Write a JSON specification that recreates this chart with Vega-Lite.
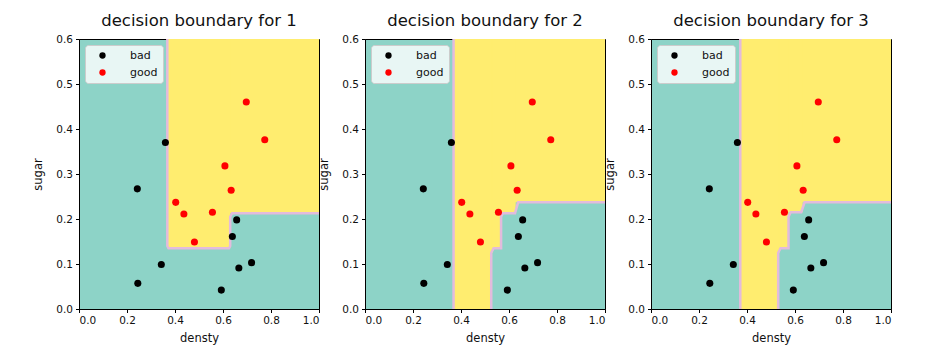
{
  "$schema": "https://vega.github.io/schema/vega-lite/v6.json",
  "background": "white",
  "padding": {"left": 32, "top": 12, "right": 5, "bottom": 5},
  "spacing": 46,
  "bounds": "flush",
  "config": {
    "font": "DejaVu Sans",
    "view": {"stroke": "black", "strokeWidth": 1, "fill": "#8dd3c7"},
    "axis": {
      "domainColor": "black", "tickColor": "black", "labelColor": "#111111", "titleColor": "#111111",
      "labelFont": "DejaVu Sans", "titleFont": "DejaVu Sans", "labelFontSize": 10.5, "titleFontSize": 11.5,
      "titleFontWeight": "normal", "tickSize": 3.5, "labelPadding": 3, "grid": false, "zindex": 2
    },
    "axisY": {"titlePadding": 12},
    "axisX": {"titlePadding": 6},
    "title": {"font": "DejaVu Sans", "fontSize": 16.5, "fontWeight": "normal", "color": "#111111", "offset": 5, "baseline": "alphabetic", "frame": "group"}
  },
  "datasets": {
    "pts": [
      {"densty": 0.697, "sugar": 0.460, "label": "good"},
      {"densty": 0.774, "sugar": 0.376, "label": "good"},
      {"densty": 0.634, "sugar": 0.264, "label": "good"},
      {"densty": 0.608, "sugar": 0.318, "label": "good"},
      {"densty": 0.556, "sugar": 0.215, "label": "good"},
      {"densty": 0.403, "sugar": 0.237, "label": "good"},
      {"densty": 0.481, "sugar": 0.149, "label": "good"},
      {"densty": 0.437, "sugar": 0.211, "label": "good"},
      {"densty": 0.666, "sugar": 0.091, "label": "bad"},
      {"densty": 0.243, "sugar": 0.267, "label": "bad"},
      {"densty": 0.245, "sugar": 0.057, "label": "bad"},
      {"densty": 0.343, "sugar": 0.099, "label": "bad"},
      {"densty": 0.639, "sugar": 0.161, "label": "bad"},
      {"densty": 0.657, "sugar": 0.198, "label": "bad"},
      {"densty": 0.360, "sugar": 0.370, "label": "bad"},
      {"densty": 0.593, "sugar": 0.042, "label": "bad"},
      {"densty": 0.719, "sugar": 0.103, "label": "bad"}
    ],
    "regions": [
      {"panel": 1, "x": 0.368, "x2": 1.0, "y": 0.213, "y2": 0.6},
      {"panel": 1, "x": 0.368, "x2": 0.63, "y": 0.135, "y2": 0.6},
      {"panel": 2, "x": 0.369, "x2": 1.0, "y": 0.237, "y2": 0.6},
      {"panel": 2, "x": 0.369, "x2": 0.628, "y": 0.213, "y2": 0.6},
      {"panel": 2, "x": 0.369, "x2": 0.567, "y": 0.135, "y2": 0.6},
      {"panel": 2, "x": 0.369, "x2": 0.532, "y": 0.125, "y2": 0.6},
      {"panel": 2, "x": 0.369, "x2": 0.526, "y": 0.0, "y2": 0.6},
      {"panel": 3, "x": 0.372, "x2": 1.0, "y": 0.237, "y2": 0.6},
      {"panel": 3, "x": 0.372, "x2": 0.632, "y": 0.215, "y2": 0.6},
      {"panel": 3, "x": 0.372, "x2": 0.573, "y": 0.135, "y2": 0.6},
      {"panel": 3, "x": 0.372, "x2": 0.536, "y": 0.125, "y2": 0.6},
      {"panel": 3, "x": 0.372, "x2": 0.530, "y": 0.0, "y2": 0.6}
    ],
    "bounds": [
      {"panel": 1, "path": "a", "i": 1, "x": 0.368, "y": 0.6},
      {"panel": 1, "path": "a", "i": 2, "x": 0.368, "y": 0.14},
      {"panel": 1, "path": "a", "i": 3, "x": 0.373, "y": 0.135},
      {"panel": 1, "path": "a", "i": 4, "x": 0.625, "y": 0.135},
      {"panel": 1, "path": "a", "i": 5, "x": 0.63, "y": 0.14},
      {"panel": 1, "path": "a", "i": 6, "x": 0.63, "y": 0.205},
      {"panel": 1, "path": "a", "i": 7, "x": 0.638, "y": 0.213},
      {"panel": 1, "path": "a", "i": 8, "x": 1.0, "y": 0.213},
      {"panel": 2, "path": "a", "i": 1, "x": 0.369, "y": 0.6},
      {"panel": 2, "path": "a", "i": 2, "x": 0.369, "y": 0.0},
      {"panel": 2, "path": "b", "i": 1, "x": 0.526, "y": 0.0},
      {"panel": 2, "path": "b", "i": 2, "x": 0.526, "y": 0.125},
      {"panel": 2, "path": "b", "i": 3, "x": 0.536, "y": 0.135},
      {"panel": 2, "path": "b", "i": 4, "x": 0.567, "y": 0.135},
      {"panel": 2, "path": "b", "i": 5, "x": 0.567, "y": 0.205},
      {"panel": 2, "path": "b", "i": 6, "x": 0.575, "y": 0.213},
      {"panel": 2, "path": "b", "i": 7, "x": 0.625, "y": 0.213},
      {"panel": 2, "path": "b", "i": 8, "x": 0.638, "y": 0.237},
      {"panel": 2, "path": "b", "i": 9, "x": 1.0, "y": 0.237},
      {"panel": 3, "path": "a", "i": 1, "x": 0.372, "y": 0.6},
      {"panel": 3, "path": "a", "i": 2, "x": 0.372, "y": 0.0},
      {"panel": 3, "path": "b", "i": 1, "x": 0.530, "y": 0.0},
      {"panel": 3, "path": "b", "i": 2, "x": 0.530, "y": 0.125},
      {"panel": 3, "path": "b", "i": 3, "x": 0.540, "y": 0.135},
      {"panel": 3, "path": "b", "i": 4, "x": 0.573, "y": 0.135},
      {"panel": 3, "path": "b", "i": 5, "x": 0.573, "y": 0.205},
      {"panel": 3, "path": "b", "i": 6, "x": 0.582, "y": 0.215},
      {"panel": 3, "path": "b", "i": 7, "x": 0.626, "y": 0.215},
      {"panel": 3, "path": "b", "i": 8, "x": 0.640, "y": 0.237},
      {"panel": 3, "path": "b", "i": 9, "x": 1.0, "y": 0.237}
    ]
  },
  "resolve": {"legend": {"color": "independent"}},
  "hconcat": [
    {
      "width": 240, "height": 270,
      "title": "decision boundary for 1",
      "layer": [
        {
          "data": {"name": "regions"},
          "transform": [{"filter": "datum.panel == 1"}],
          "mark": {"type": "rect", "color": "#ffed6f"},
          "encoding": {
            "x": {"field": "x", "type": "quantitative", "scale": {"domain": [0, 1], "nice": false}, "axis": {"values": [0, 0.2, 0.4, 0.6, 0.8, 1.0], "format": ".1f", "title": "densty"}},
            "x2": {"field": "x2"},
            "y": {"field": "y", "type": "quantitative", "scale": {"domain": [0, 0.6], "nice": false}, "axis": {"values": [0, 0.1, 0.2, 0.3, 0.4, 0.5, 0.6], "format": ".1f", "title": "sugar"}},
            "y2": {"field": "y2"}
          }
        },
        {
          "data": {"name": "bounds"},
          "transform": [{"filter": "datum.panel == 1"}],
          "mark": {"type": "line", "color": "#e3bbdc", "strokeWidth": 2.5},
          "encoding": {
            "x": {"field": "x", "type": "quantitative"},
            "y": {"field": "y", "type": "quantitative"},
            "detail": {"field": "path"},
            "order": {"field": "i"}
          }
        },
        {
          "mark": {"type": "rect", "fill": null, "stroke": "black", "strokeWidth": 1},
          "encoding": {"x": {"datum": 0}, "x2": {"datum": 1}, "y": {"datum": 0}, "y2": {"datum": 0.6}}
        },
        {
          "data": {"name": "pts"},
          "mark": {"type": "circle", "size": 50, "opacity": 1},
          "encoding": {
            "x": {"field": "densty", "type": "quantitative"},
            "y": {"field": "sugar", "type": "quantitative"},
            "color": {"field": "label", "type": "nominal", "scale": {"domain": ["bad", "good"], "range": ["black", "red"]},
              "legend": {"title": null, "orient": "top-left", "offset": 6, "fillColor": "rgba(255,255,255,0.8)", "strokeColor": "#cccccc", "cornerRadius": 3, "padding": 5, "labelFontSize": 11, "labelColor": "#111111", "symbolType": "circle", "symbolSize": 40, "symbolStrokeWidth": 0, "symbolOffset": 7, "labelOffset": 22, "rowPadding": 5}}
          }
        }
      ]
    },
    {
      "width": 240, "height": 270,
      "title": "decision boundary for 2",
      "layer": [
        {
          "data": {"name": "regions"},
          "transform": [{"filter": "datum.panel == 2"}],
          "mark": {"type": "rect", "color": "#ffed6f"},
          "encoding": {
            "x": {"field": "x", "type": "quantitative", "scale": {"domain": [0, 1], "nice": false}, "axis": {"values": [0, 0.2, 0.4, 0.6, 0.8, 1.0], "format": ".1f", "title": "densty"}},
            "x2": {"field": "x2"},
            "y": {"field": "y", "type": "quantitative", "scale": {"domain": [0, 0.6], "nice": false}, "axis": {"values": [0, 0.1, 0.2, 0.3, 0.4, 0.5, 0.6], "format": ".1f", "title": "sugar"}},
            "y2": {"field": "y2"}
          }
        },
        {
          "data": {"name": "bounds"},
          "transform": [{"filter": "datum.panel == 2"}],
          "mark": {"type": "line", "color": "#e3bbdc", "strokeWidth": 2.5},
          "encoding": {
            "x": {"field": "x", "type": "quantitative"},
            "y": {"field": "y", "type": "quantitative"},
            "detail": {"field": "path"},
            "order": {"field": "i"}
          }
        },
        {
          "mark": {"type": "rect", "fill": null, "stroke": "black", "strokeWidth": 1},
          "encoding": {"x": {"datum": 0}, "x2": {"datum": 1}, "y": {"datum": 0}, "y2": {"datum": 0.6}}
        },
        {
          "data": {"name": "pts"},
          "mark": {"type": "circle", "size": 50, "opacity": 1},
          "encoding": {
            "x": {"field": "densty", "type": "quantitative"},
            "y": {"field": "sugar", "type": "quantitative"},
            "color": {"field": "label", "type": "nominal", "scale": {"domain": ["bad", "good"], "range": ["black", "red"]},
              "legend": {"title": null, "orient": "top-left", "offset": 6, "fillColor": "rgba(255,255,255,0.8)", "strokeColor": "#cccccc", "cornerRadius": 3, "padding": 5, "labelFontSize": 11, "labelColor": "#111111", "symbolType": "circle", "symbolSize": 40, "symbolStrokeWidth": 0, "symbolOffset": 7, "labelOffset": 22, "rowPadding": 5}}
          }
        }
      ]
    },
    {
      "width": 240, "height": 270,
      "title": "decision boundary for 3",
      "layer": [
        {
          "data": {"name": "regions"},
          "transform": [{"filter": "datum.panel == 3"}],
          "mark": {"type": "rect", "color": "#ffed6f"},
          "encoding": {
            "x": {"field": "x", "type": "quantitative", "scale": {"domain": [0, 1], "nice": false}, "axis": {"values": [0, 0.2, 0.4, 0.6, 0.8, 1.0], "format": ".1f", "title": "densty"}},
            "x2": {"field": "x2"},
            "y": {"field": "y", "type": "quantitative", "scale": {"domain": [0, 0.6], "nice": false}, "axis": {"values": [0, 0.1, 0.2, 0.3, 0.4, 0.5, 0.6], "format": ".1f", "title": "sugar"}},
            "y2": {"field": "y2"}
          }
        },
        {
          "data": {"name": "bounds"},
          "transform": [{"filter": "datum.panel == 3"}],
          "mark": {"type": "line", "color": "#e3bbdc", "strokeWidth": 2.5},
          "encoding": {
            "x": {"field": "x", "type": "quantitative"},
            "y": {"field": "y", "type": "quantitative"},
            "detail": {"field": "path"},
            "order": {"field": "i"}
          }
        },
        {
          "mark": {"type": "rect", "fill": null, "stroke": "black", "strokeWidth": 1},
          "encoding": {"x": {"datum": 0}, "x2": {"datum": 1}, "y": {"datum": 0}, "y2": {"datum": 0.6}}
        },
        {
          "data": {"name": "pts"},
          "mark": {"type": "circle", "size": 50, "opacity": 1},
          "encoding": {
            "x": {"field": "densty", "type": "quantitative"},
            "y": {"field": "sugar", "type": "quantitative"},
            "color": {"field": "label", "type": "nominal", "scale": {"domain": ["bad", "good"], "range": ["black", "red"]},
              "legend": {"title": null, "orient": "top-left", "offset": 6, "fillColor": "rgba(255,255,255,0.8)", "strokeColor": "#cccccc", "cornerRadius": 3, "padding": 5, "labelFontSize": 11, "labelColor": "#111111", "symbolType": "circle", "symbolSize": 40, "symbolStrokeWidth": 0, "symbolOffset": 7, "labelOffset": 22, "rowPadding": 5}}
          }
        }
      ]
    }
  ]
}
